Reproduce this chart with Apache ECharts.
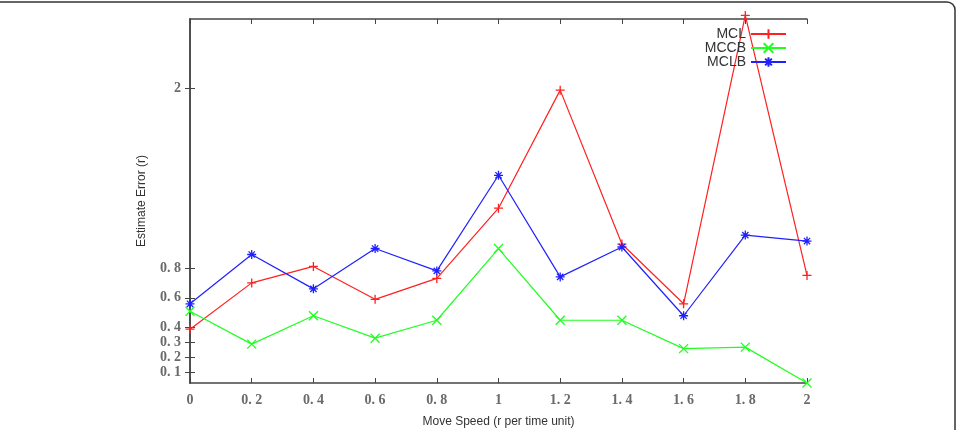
<!DOCTYPE html>
<html><head><meta charset="utf-8">
<script src="https://cdn.jsdelivr.net/npm/echarts@6/dist/echarts.min.js"></script>
<style>html,body{margin:0;padding:0;background:#fff}#c{width:959px;height:430px}</style>
</head><body><div id="c"></div>
<script>
const speeds = [0, 0.2, 0.4, 0.6, 0.8, 1.0, 1.2, 1.4, 1.6, 1.8, 2.0];
const mcl  = [0.39, 0.70, 0.81, 0.59, 0.73, 1.20, 1.99, 0.96, 0.56, 2.49, 0.75];
const mccb = [0.51, 0.29, 0.48, 0.33, 0.45, 0.93, 0.45, 0.45, 0.26, 0.27, 0.03];
const mclb = [0.56, 0.89, 0.66, 0.93, 0.78, 1.42, 0.74, 0.94, 0.48, 1.02, 0.98];
const yTicks = [0.1, 0.2, 0.3, 0.4, 0.6, 0.8, 2];
const xTicks = [0, 0.2, 0.4, 0.6, 0.8, 1, 1.2, 1.4, 1.6, 1.8, 2];

const fmt = v => String(Math.round(v * 10) / 10).replace('.', '. ');
const pairs = a => speeds.map((s, i) => [s, a[i]]);

const SYM_PLUS = 'path://M5,0L5,10M0,5L10,5';
const SYM_X = 'path://M0,0L10,10M10,0L0,10';
const SYM_STAR = 'path://M5,0L5,10M0,5L10,5M1.5,1.5L8.5,8.5M8.5,1.5L1.5,8.5';

const axisLine = {lineStyle: {color: '#444', width: 1.5}};
const tickFont = {fontFamily: 'Liberation Serif', fontSize: 14, color: '#6a6a6a', fontWeight: 'bold'};

function mk(name, data, color, sym) {
  return {
    name, type: 'line', data: pairs(data), symbol: sym, symbolSize: 9, clip: false,
    lineStyle: {color, width: 1.2},
    itemStyle: {color, borderColor: color, borderWidth: 1.3},
    emphasis: {disabled: true}
  };
}

const chart = echarts.init(document.getElementById('c'));
chart.setOption({
  animation: false,
  backgroundColor: '#fff',
  grid: {left: 190, right: 152, top: 19, bottom: 47, containLabel: false, outerBoundsMode: 'none'},
  legend: {
    orient: 'vertical', right: 167, top: 22, align: 'right', itemGap: 0,
    itemWidth: 35, itemHeight: 12,
    textStyle: {fontFamily: 'Liberation Sans', fontSize: 14, color: '#333'},
    data: ['MCL', 'MCCB', 'MCLB']
  },
  xAxis: [{
    type: 'value', min: 0, max: 2, interval: 0.2, position: 'bottom',
    name: 'Move Speed (r per time unit)', nameLocation: 'middle', nameGap: 33,
    nameTextStyle: {fontFamily: 'Liberation Sans', fontSize: 12, color: '#333'},
    axisLine, splitLine: {show: false},
    axisTick: {inside: true, length: 5, lineStyle: {color: '#444'}},
    axisLabel: Object.assign({margin: 10, formatter: fmt, customValues: xTicks}, tickFont)
  }, {
    type: 'value', min: 0, max: 2, interval: 0.2, position: 'top',
    axisLine, splitLine: {show: false},
    axisTick: {inside: true, length: 5, lineStyle: {color: '#444'}},
    axisLabel: {show: false}
  }],
  yAxis: [{
    type: 'value', min: 0.03, max: 2.466, position: 'left',
    name: 'Estimate Error (r)', nameLocation: 'middle', nameGap: 42, nameRotate: 90,
    nameTextStyle: {fontFamily: 'Liberation Sans', fontSize: 12, color: '#333'},
    axisLine, splitLine: {show: false},
    axisTick: {inside: true, length: 5, customValues: yTicks, lineStyle: {color: '#444'}},
    axisLabel: Object.assign({margin: 9, formatter: fmt, customValues: yTicks}, tickFont)
  }, {
    type: 'value', min: 0.03, max: 2.466, position: 'right',
    axisLine, splitLine: {show: false},
    axisTick: {inside: true, length: 5, customValues: yTicks, lineStyle: {color: '#444'}},
    axisLabel: {show: false}
  }],
  series: [
    mk('MCL', mcl, '#ff2020', SYM_PLUS),
    mk('MCCB', mccb, '#20ff20', SYM_X),
    mk('MCLB', mclb, '#2020ff', SYM_STAR)
  ],
  graphic: [{
    type: 'rect', silent: true,
    shape: {x: -20, y: 2, width: 975, height: 460, r: 8},
    style: {fill: 'none', stroke: '#333', lineWidth: 1.5}
  }]
});
</script></body></html>
